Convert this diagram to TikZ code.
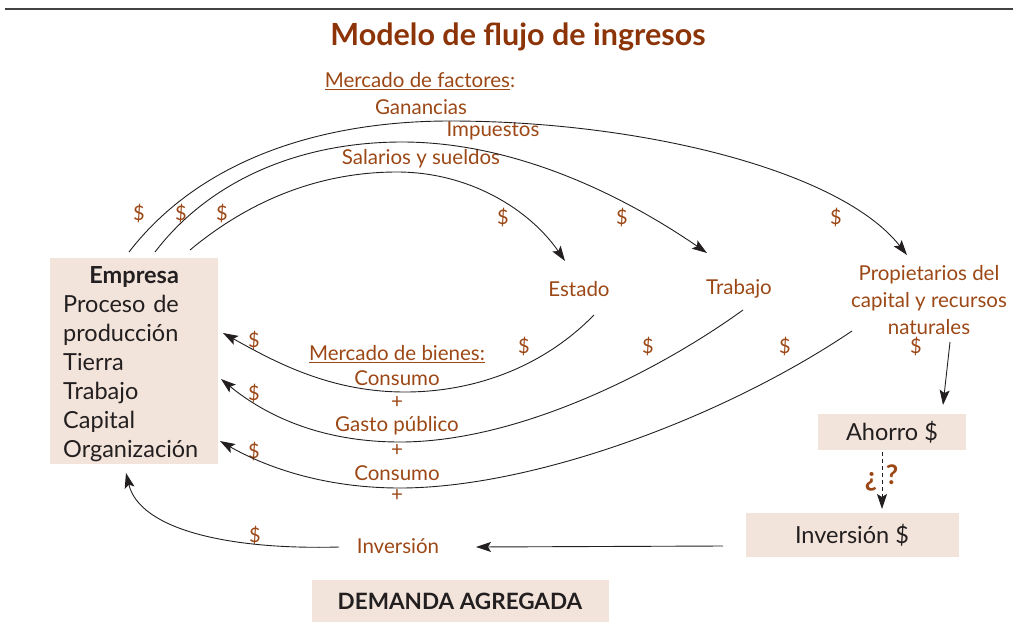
\documentclass[tikz,border=0pt]{standalone}
\usepackage{fontspec}
\setmainfont{Lato}
\usetikzlibrary{arrows.meta}
\definecolor{brn}{RGB}{156,72,22}
\definecolor{ttl}{RGB}{140,52,8}
\definecolor{boxf}{RGB}{242,228,218}
\definecolor{ink}{RGB}{35,31,32}
\begin{document}
\begin{tikzpicture}[x=1pt,y=-1pt,
  lbl/.style={text=brn,font=\fontsize{20.5}{27}\selectfont,inner sep=0pt},
  dol/.style={text=brn,font=\fontsize{20}{22}\selectfont,inner sep=0pt},
  boxtext/.style={text=ink,font=\fontsize{23.5}{29}\selectfont},
  fbox/.style={fill=boxf,inner sep=0pt},
  flow/.style={draw=ink,line width=0.9pt,-{Stealth[length=15pt,width=10pt,inset=3pt]}},
  plainline/.style={draw=ink,line width=0.9pt}]
\useasboundingbox (0,0) rectangle (1013,638);
\draw[line width=2pt,draw=ink!85] (5,9) -- (1013,9);
% title
\node[text=ttl,font=\fontsize{30.5}{34}\selectfont\bfseries,inner sep=0pt] (title) at (518,37) {Modelo de flujo de ingresos};
% factor market labels
\node[lbl] (mf) at (420,81) {\underline{Mercado de factores}:};
\node[lbl] (gan) at (421,107) {Ganancias};
\node[lbl] (imp) at (493,131) {Impuestos};
\node[lbl] (sal) at (421,159) {Salarios y sueldos};
% agents
\node[fbox,minimum width=168pt,minimum height=206pt,anchor=north west,
      boxtext,inner xsep=13pt,text width=142pt,align=left] (emp) at (50,258)
  {\rule{0pt}{22pt}\makebox[142pt][c]{\bfseries Empresa}\\Proceso de\\producción\\Tierra\\Trabajo\\Capital\\Organización};
\node[lbl] (est) at (579,289) {Estado};
\node[lbl] (trab) at (739,289) {Trabajo};
\node[lbl,align=center] (prop) at (929,300) {Propietarios del\\capital y recursos\\naturales};
% goods market labels
\node[lbl] (mb) at (397,354) {\underline{Mercado de bienes:}};
\node[lbl] (c1) at (397,378) {Consumo};
\node[lbl] (p1) at (397,403) {+};
\node[lbl] (gp) at (397,426) {Gasto público};
\node[lbl] (p2) at (397,451) {+};
\node[lbl] (c2) at (397,473) {Consumo};
\node[lbl] (p3) at (397,496) {+};
\node[lbl] (inv) at (398,546) {Inversión};
% boxes right
\node[fbox,minimum width=148pt,minimum height=36pt,boxtext] (aho) at (892,432) {Ahorro \$};
\node[fbox,minimum width=213pt,minimum height=44pt,boxtext] (invb) at (852,535) {Inversión \$};
\node[fbox,minimum width=297pt,minimum height=42pt,text=ink,font=\fontsize{22.5}{25}\selectfont\bfseries] (dem) at (460,601) {DEMANDA AGREGADA};
% dollar signs
\node[dol] (d1) at (139,213) {\$};
\node[dol] (d2) at (181,213) {\$};
\node[dol] (d3) at (222,213) {\$};
\node[dol] (d4) at (503,217) {\$};
\node[dol] (d5) at (622,217) {\$};
\node[dol] (d6) at (836,217) {\$};
\node[dol] (d7) at (254,340) {\$};
\node[dol] (d8) at (254,393) {\$};
\node[dol] (d9) at (254,451) {\$};
\node[dol] (d10) at (524,346) {\$};
\node[dol] (d11) at (648,346) {\$};
\node[dol] (d12) at (785,346) {\$};
\node[dol] (d13) at (916,346) {\$};
\node[dol] (d14) at (255,535) {\$};
\node[text=brn,font=\fontsize{27}{30}\selectfont\bfseries,inner sep=0pt] (q1) at (871,482) {¿};
\node[text=brn,font=\fontsize{27}{30}\selectfont\bfseries,inner sep=0pt] (q2) at (892,475) {?};
% connector end points
\coordinate (eA) at (129,252);
\coordinate (eB) at (155,252);
\coordinate (eC) at (190,250);
\coordinate (estIn) at (565,261);
\coordinate (trabIn) at (707,253);
\coordinate (propIn) at (907,255);
\coordinate (estOut) at (594,315);
\coordinate (trabOut) at (743,310);
\coordinate (propOut) at (852,331);
\coordinate (empIn1) at (223,333);
\coordinate (empIn2) at (221,379);
\coordinate (empIn3) at (220,441);
\coordinate (empIn4) at (126,473);
\coordinate (propDown) at (950,342);
\coordinate (ahoIn) at (943,405);
\coordinate (ahoOut) at (882,452);
\coordinate (invbIn) at (882,509);
\coordinate (invbOut) at (723,546);
\coordinate (invIn) at (476,547);
\coordinate (invOut) at (339,547);
% factor flows
\draw[flow] (eA) .. controls (200,160) and (320,121) .. (450,121) .. controls (640,121) and (840,170) .. (propIn);
\draw[flow] (eB) .. controls (210,180) and (300,142) .. (402,142) .. controls (520,142) and (630,200) .. (trabIn);
\draw[flow] (eC) .. controls (250,200) and (320,172) .. (397,172) .. controls (470,172) and (530,210) .. (estIn);
% goods flows
\draw[flow] (estOut) .. controls (540,370) and (470,392) .. (405,392) .. controls (330,392) and (275,362) .. (empIn1);
\draw[flow] (trabOut) .. controls (660,370) and (520,442) .. (400,442) .. controls (320,442) and (265,415) .. (empIn2);
\draw[flow] (propOut) .. controls (720,420) and (530,488) .. (400,488) .. controls (320,488) and (262,465) .. (empIn3);
% saving / investment
\draw[flow] (propDown) -- (ahoIn);
\draw[flow,dashed,dash pattern=on 4pt off 3pt] (ahoOut) -- (invbIn);
\draw[flow] (invbOut) -- (invIn);
\draw[flow] (invOut) .. controls (230,550) and (140,530) .. (empIn4);
\end{tikzpicture}
\end{document}
